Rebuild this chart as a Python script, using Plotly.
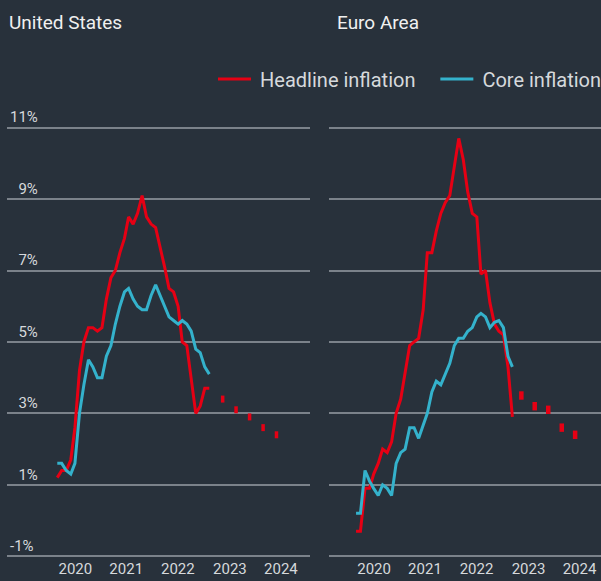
import plotly.graph_objects as go
import pandas as pd

# ---------------- data ----------------
us_dates = pd.date_range("2020-11-01", periods=35, freq="MS")
us_headline = [1.2, 1.4, 1.4, 1.7, 2.6, 4.2, 5.0, 5.4, 5.4, 5.3, 5.4, 6.2,
               6.8, 7.0, 7.5, 7.9, 8.5, 8.3, 8.6, 9.1, 8.5, 8.3, 8.2, 7.7,
               7.1, 6.5, 6.4, 6.0, 5.0, 4.9, 4.0, 3.0, 3.2, 3.7, 3.7]
us_core = [1.6, 1.6, 1.4, 1.3, 1.6, 3.0, 3.8, 4.5, 4.3, 4.0, 4.0, 4.6,
           4.9, 5.5, 6.0, 6.4, 6.5, 6.2, 6.0, 5.9, 5.9, 6.3, 6.6, 6.3,
           6.0, 5.7, 5.6, 5.5, 5.6, 5.5, 5.3, 4.8, 4.7, 4.3, 4.1]

ea_dates = pd.date_range("2020-11-01", periods=36, freq="MS")
ea_headline = [-0.3, -0.3, 0.9, 0.9, 1.3, 1.6, 2.0, 1.9, 2.2, 3.0, 3.4, 4.1,
               4.9, 5.0, 5.1, 5.9, 7.5, 7.5, 8.1, 8.6, 8.9, 9.1, 9.9, 10.7,
               10.1, 9.2, 8.6, 8.5, 6.9, 7.0, 6.1, 5.5, 5.3, 5.2, 4.3, 2.9]
ea_core = [0.2, 0.2, 1.4, 1.1, 0.9, 0.7, 1.0, 0.9, 0.7, 1.6, 1.9, 2.0,
           2.6, 2.6, 2.3, 2.7, 3.0, 3.6, 3.9, 3.8, 4.1, 4.4, 4.9, 5.1,
           5.1, 5.3, 5.4, 5.7, 5.8, 5.7, 5.4, 5.55, 5.6, 5.4, 4.6, 4.3]

fc_dates = ["2023-12-01", "2024-03-01", "2024-06-01", "2024-09-01", "2024-12-01"]
us_forecast = [3.4, 3.1, 2.9, 2.6, 2.4]
ea_forecast = [3.5, 3.2, 3.1, 2.6, 2.4]

year_labels = ["2020", "2021", "2022", "2023", "2024"]
year_tick_dates = ["2021-03-04", "2022-02-13", "2023-01-30", "2024-01-19", "2024-12-31"]
y_ticks = [-1, 1, 3, 5, 7, 9, 11]
y_labels = ["-1%", "\u20071%", "\u20073%", "\u20075%", "\u20077%", "\u20079%", "11%"]

panel_titles = ["United States", "Euro Area"]
series_names = ["Headline inflation", "Core inflation"]

# ---------------- style ----------------
BG = "#28313b"
RED = "#e60014"
CYAN = "#34b2cc"
GRID = "#7b828a"
TXT = "#d6d9dc"
FONT = "Roboto"

fig = go.Figure()

fig.add_trace(go.Scatter(x=us_dates, y=us_headline, mode="lines",
                         name="\u2009" + series_names[0] + "\u00a0" * 3,
                         line=dict(color=RED, width=3), xaxis="x", yaxis="y"))
fig.add_trace(go.Scatter(x=us_dates, y=us_core, mode="lines",
                         name="\u2009" + series_names[1],
                         line=dict(color=CYAN, width=3), xaxis="x", yaxis="y"))
fig.add_trace(go.Scatter(x=fc_dates, y=us_forecast, mode="markers", showlegend=False,
                         marker=dict(symbol="line-ns", size=5, color=RED,
                                     line=dict(color=RED, width=3.5)),
                         xaxis="x", yaxis="y"))

fig.add_trace(go.Scatter(x=ea_dates, y=ea_headline, mode="lines", showlegend=False,
                         line=dict(color=RED, width=3), xaxis="x2", yaxis="y2"))
fig.add_trace(go.Scatter(x=ea_dates, y=ea_core, mode="lines", showlegend=False,
                         line=dict(color=CYAN, width=3), xaxis="x2", yaxis="y2"))
fig.add_trace(go.Scatter(x=fc_dates, y=ea_forecast, mode="markers", showlegend=False,
                         marker=dict(symbol="line-ns", size=6, color=RED,
                                     line=dict(color=RED, width=4.5)),
                         xaxis="x2", yaxis="y2"))

# figure is wider than the 601px window: the right edge is clipped like the reference
W, H = 640, 581
T, B = 108, 23
PH = H - T - B
xcommon = dict(type="date", showgrid=False, zeroline=False, showline=False,
               tickmode="array", tickvals=year_tick_dates, ticktext=year_labels,
               ticks="", tickfont=dict(family=FONT, size=15, color=TXT))
ycommon = dict(range=[-1.05, 11.55], tickmode="array", tickvals=y_ticks, showgrid=True,
               gridcolor=GRID, gridwidth=1.5, zeroline=False, showline=False, ticks="")

fig.update_layout(
    width=W, height=H,
    paper_bgcolor=BG, plot_bgcolor=BG,
    margin=dict(l=0, r=0, t=T, b=B),
    font=dict(family=FONT, color=TXT),
    xaxis=dict(domain=[7 / W, 310 / W], range=["2019-11-25", "2025-07-17"], **xcommon),
    xaxis2=dict(domain=[329 / W, 632 / W], range=["2020-05-01", "2025-12-23"], **xcommon),
    yaxis=dict(anchor="x", ticktext=y_labels, ticklabelposition="inside top",
               tickfont=dict(family=FONT, size=15, color=TXT), **ycommon),
    yaxis2=dict(anchor="x2", showticklabels=False, **ycommon),
    legend=dict(orientation="h", x=213 / W, xanchor="left", y=(H - B - 79) / PH,
                yanchor="middle", font=dict(family=FONT, size=20, color=TXT),
                itemwidth=33, bgcolor="rgba(0,0,0,0)"),
    showlegend=True,
)

for title, xpos in zip(panel_titles, [7, 335]):
    fig.add_annotation(text=title, xref="paper", yref="paper", x=xpos / W,
                       y=(H - B - 22) / PH, xanchor="left", yanchor="middle",
                       showarrow=False,
                       font=dict(family=FONT, size=19, color="#f0f0f0"))

fig.write_html(
    "out.html",
    config={"displayModeBar": False},
    post_script="document.body.style.margin='0';document.body.style.overflow='hidden';"
                "document.body.style.background='" + BG + "';",
)
